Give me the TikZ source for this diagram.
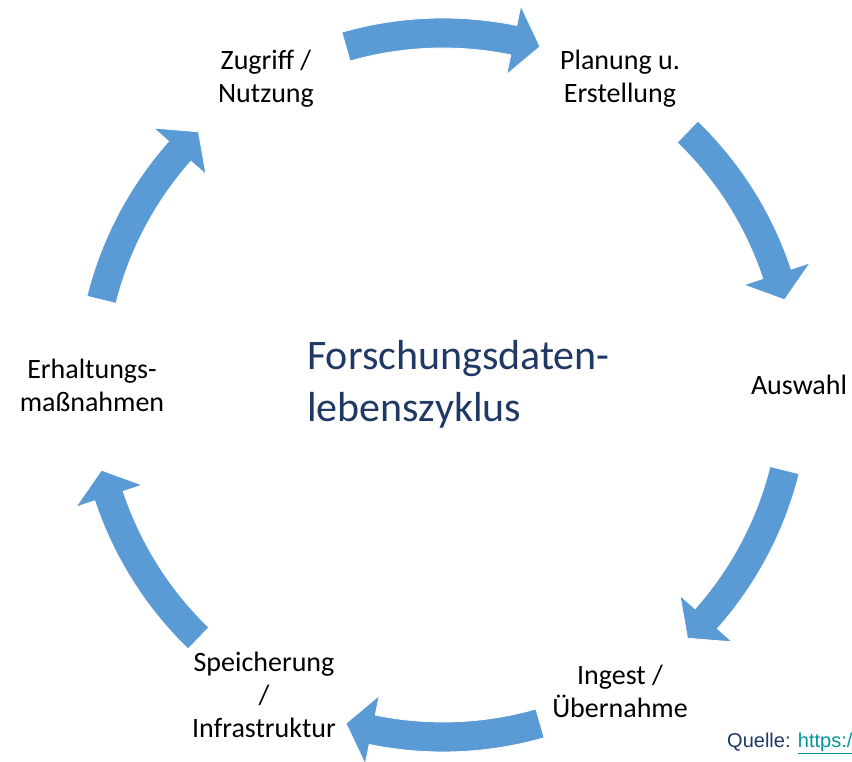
\documentclass[tikz,border=0pt]{standalone}
\usepackage{fontspec}
\setmainfont{Carlito}
\newfontfamily\quellefont{Liberation Sans}
\usetikzlibrary{calc,positioning}

\definecolor{arrowblue}{RGB}{91,155,213}
\definecolor{titleblue}{RGB}{31,56,100}
\definecolor{linkteal}{RGB}{0,150,155}

\begin{document}
\begin{tikzpicture}[x=1pt, y=1pt,
  phase/.style={align=center, inner sep=0pt, font=\fontsize{28}{33}\selectfont},
  title/.style={align=left, inner sep=0pt, text=titleblue, font=\fontsize{42}{52}\selectfont},
  cyclearrow/.style={fill=arrowblue, draw=white, line width=0.8pt}]

\useasboundingbox (0,0) rectangle (852,762);

%Nodes
\coordinate (c) at (443,377);
\node[title]   (title)  at (307,378) [anchor=west] {Forschungsdaten-\\lebenszyklus};
\begin{scope}[shift={(c)}]
\node[phase]   (auswahl)  at (0:356)    {Auswahl};
\node[phase]   (planung)  at (60:354)   {Planung u.\\Erstellung};
\node[phase]   (zugriff)  at (120:354)  {Zugriff /\\Nutzung};
\node[phase]   (erhalt)   at (180:351)  {Erhaltungs-\\maßnahmen};
\node[phase]   (speicher) at (240:358)  {Speicherung\\/\\Infrastruktur};
\node[phase]   (ingest)   at (300:354)  {Ingest /\\Übernahme};

%Arrows
\foreach \ang in {90,30,-30,-90,-150,150}
  \filldraw[cyclearrow] (\ang+16:367) arc[start angle=\ang+16, end angle=\ang-11.6, radius=367]
    -- (\ang-11.6:387) -- (\ang-16:352) -- (\ang-11.6:317) -- (\ang-11.6:337)
    arc[start angle=\ang-11.6, end angle=\ang+16, radius=337] -- cycle;
\end{scope}

\node[inner sep=0pt, anchor=base west, text=titleblue, font=\quellefont\fontsize{20}{24}\selectfont]
  (quelle) at (727,14) {Quelle: \textcolor{linkteal}{\underline{https://}}};

\end{tikzpicture}
\end{document}
